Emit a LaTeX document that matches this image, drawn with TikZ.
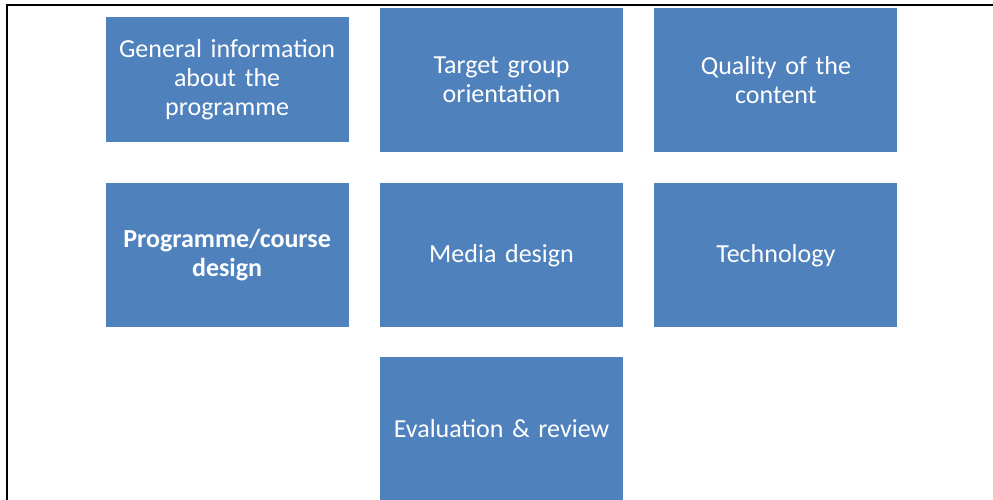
\documentclass[tikz,border=0pt]{standalone}
\usepackage{fontspec}
\setmainfont{Carlito}[WordSpace=0.7]
\usepackage{tikz}
\usetikzlibrary{positioning}
\definecolor{boxblue}{HTML}{4F81BD}
\tikzset{
    area/.style={
                fill=boxblue,
                text=white,
                align=center,
                text width=236pt,
                minimum width=243pt,
                minimum height=144pt,
                inner sep=0pt,
                font=\fontsize{26}{29}\selectfont
            },
    frame/.style={
                draw=black,
                line width=1.4pt
            },
}

\begin{document}
\begin{tikzpicture}[x=1pt,y=1pt,node distance=31pt]
  \useasboundingbox (0,0) rectangle (993,500);
  % Frame
  \draw[frame] (7,0) -- (7,495) -- (993,495);
  % First row
  \node[area] (target) at (501.5,420) {Target group\\orientation};
  \node[area,minimum height=125pt,left=of target] (general) {General information\\about the\\programme};
  \node[area,right=of target] (quality) {Quality of the\\content};
  % Second row
  \node[area,below=of target] (media) {Media design};
  \node[area,left=of media] (course) {\bfseries Programme/course\\design};
  \node[area,right=of media] (technology) {Technology};
  % Third row
  \node[area,below=29pt of media] (evaluation) {Evaluation \& review};
\end{tikzpicture}
\end{document}
